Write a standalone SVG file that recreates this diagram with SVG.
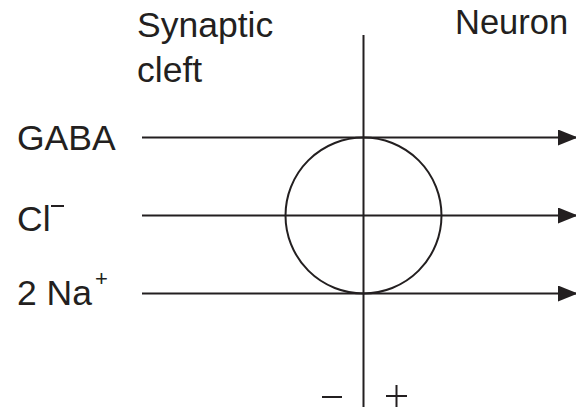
<svg xmlns="http://www.w3.org/2000/svg" width="576" height="409" viewBox="0 0 576 409">
<style>
text{font-family:"Liberation Sans",Arial,sans-serif;font-size:35.5px;fill:#231f20}
.ln{stroke:#231f20;stroke-width:2;fill:none}
</style>
<defs>
<marker id="ah" markerUnits="userSpaceOnUse" markerWidth="20" markerHeight="16" refX="18" refY="8" orient="auto">
<path d="M0,0 L20,8 L0,16 Z" fill="#231f20"/>
</marker>
</defs>
<rect width="576" height="409" fill="#fff"/>
<g id="labels">
<text x="137" y="37">Synaptic</text>
<text x="137" y="82">cleft</text>
<text x="455" y="34" style="font-size:34.5px">Neuron</text>
</g>
<g id="membrane">
<line class="ln" x1="363.5" y1="35" x2="363.5" y2="407"/>
<circle class="ln" cx="363.5" cy="215.5" r="78" stroke-width="2.5"/>
</g>
<g id="connectors">
<line class="ln" x1="142" y1="137.5" x2="576" y2="137.5" marker-end="url(#ah)"/>
<line class="ln" x1="142" y1="215.5" x2="576" y2="215.5" marker-end="url(#ah)"/>
<line class="ln" x1="142" y1="293.5" x2="576" y2="293.5" marker-end="url(#ah)"/>
</g>
<g id="gaba"><text x="17" y="150">GABA</text></g>
<g id="cl"><text x="17" y="231">Cl</text><line class="ln" x1="51" y1="206" x2="64" y2="206" stroke-width="1.8"/></g>
<g id="na"><text x="17" y="305">2 Na</text><text x="95" y="286" style="font-size:22px">+</text></g>
<g id="charges">
<line class="ln" x1="322" y1="397" x2="342" y2="397"/>
<line class="ln" x1="386" y1="396" x2="407" y2="396"/>
<line class="ln" x1="396.5" y1="385" x2="396.5" y2="407"/>
</g>
</svg>
